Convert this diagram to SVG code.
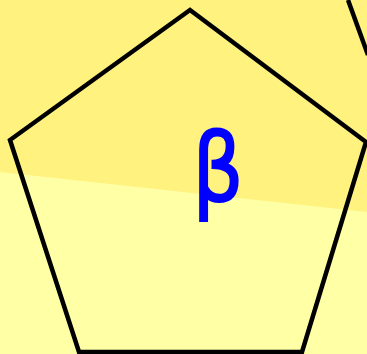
<svg xmlns="http://www.w3.org/2000/svg" width="367" height="354" viewBox="0 0 367 354">
<style>
.edge{fill:none;stroke:#000;stroke-width:4.5;stroke-linejoin:miter}
.lbl{font-family:"DejaVu Sans",sans-serif;font-size:94px;fill:#0000FF;stroke:#0000FF;stroke-width:2;text-anchor:middle}
</style>
<rect x="0" y="0" width="367" height="354" fill="#FFFFA6"/>
<polygon points="0,0 367,0 367,212 0,172" fill="#FFF27E"/>
<g id="connectors">
<line class="edge" x1="348" y1="0" x2="368" y2="55"/>
</g>
<g id="pentagon">
<polygon class="edge" points="190,10 366,142 302,352 79,352 10,140"/>
</g>
<g id="beta">
<text class="lbl" transform="translate(218,201) scale(0.85,1)" x="0" y="0">β</text>
</g>
</svg>
